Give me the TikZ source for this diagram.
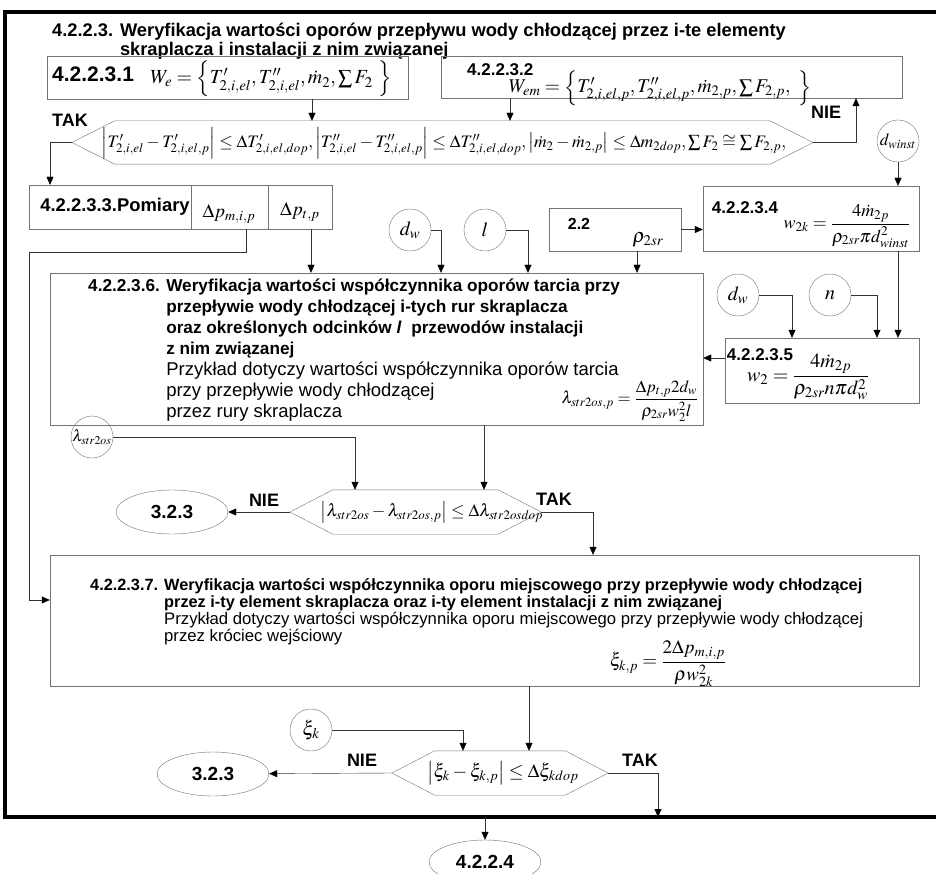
\documentclass[tikz,border=0pt]{standalone}
\usepackage{mathptmx}
\usepackage[no-math]{fontspec}
\setmainfont{Liberation Sans}
\usetikzlibrary{arrows.meta,shapes.geometric,fit}

\tikzset{
  box/.style={draw=black!55, inner sep=0pt},
  inp/.style={draw=black!55, circle, minimum size=42pt, inner sep=0pt, font=\fontsize{20}{20}\selectfont},
  term/.style={draw=black!55, ellipse, minimum width=112pt, minimum height=44pt, inner sep=0pt, font=\bfseries\fontsize{19}{19}\selectfont},
  flow/.style={draw=black!80, -{Triangle[length=8pt,width=7pt,color=black]}},
  tag/.style={inner sep=0pt, font=\bfseries\fontsize{17}{17}\selectfont},
  eq/.style={inner sep=0pt, font=\fontsize{19}{21}\selectfont},
}

\begin{document}
\begin{tikzpicture}[x=1pt, y=-1pt]
\useasboundingbox (0,0) rectangle (936,874);
% outer frame
\draw[line width=4.5pt] (950,12) -- (5,12) -- (5,817) -- (950,817);
\node[tag, anchor=base west, font=\bfseries\fontsize{18.3}{16}\selectfont] (title) at (52,37)
  {\begin{tabular}[t]{@{}l@{ }l@{}}4.2.2.3. & Weryfikacja wartości oporów przepływu wody chłodzącej przez i-te elementy\\
   & skraplacza i instalacji z nim związanej\end{tabular}};

% boxes
\node[box, fit={(47,56) (408,99)}] (b1) {};
\node[box, fit={(441,56) (902,98)}] (b2) {};
\node[box, fit={(29,185) (191,229)}] (b3) {};
\node[box, fit={(191,185) (268,229)}] (b3m) {};
\node[box, fit={(268,185) (332,229)}] (b3t) {};
\node[box, fit={(549,208) (681,251)}] (b22) {};
\node[box, fit={(703,186) (919,251)}] (b4) {};
\node[box, fit={(725,338) (919,403)}] (b5) {};
\node[box, fit={(50,273) (703,425)}] (b6) {};
\node[box, fit={(50,555) (919,686)}] (b7) {};

% checks
\node[fit={(115,121) (770,164)}, inner sep=0pt] (q1) {};
\node[fit={(333,490) (498,534)}, inner sep=0pt] (q2) {};
\node[fit={(435,751) (565,795)}, inner sep=0pt] (q3) {};
\foreach \q in {q1,q2,q3}
  \draw[black!55] (\q.north west) -- (\q.north east) -- ([xshift=43pt]\q.east) -- (\q.south east)
    -- (\q.south west) -- ([xshift=-43pt]\q.west) -- cycle;

% inputs and terminals
\node[inp, font=\fontsize{17}{17}\selectfont] (dwi) at (898,141) {$d_{winst}$};
\node[inp] (dw1) at (410,230) {$d_w$};
\node[inp] (len) at (485,230) {$l$};
\node[inp] (dw2) at (738,295) {$d_w$};
\node[inp] (num) at (830,295) {$n$};
\node[inp, font=\fontsize{16}{16}\selectfont] (lam) at (92,437) {$\lambda_{str2os}$};
\node[inp] (xi) at (311,730) {$\xi_k$};
\node[term] (e1) at (172,512) {3.2.3};
\node[term] (e2) at (213,774) {3.2.3};
\node[term] (e3) at (485,862) {4.2.2.4};

% texts
\node[tag, anchor=base west, font=\bfseries\fontsize{21}{21}\selectfont] (t1) at (52,82) {4.2.2.3.1};
\node[eq, font=\fontsize{20}{22}\selectfont] (f1) at (271,79)
  {$W_e=\left\{T'_{2,i,el},T''_{2,i,el},\dot m_2,\textstyle\sum F_2\ \right\}$};
\node[tag, anchor=base west] (t2) at (467,76) {4.2.2.3.2};
\node[eq, font=\fontsize{19.5}{21}\selectfont] (f2) at (660,88)
  {$W_{em}=\Bigl\{T'_{2,i,el,p},T''_{2,i,el,p},\dot m_{2,p},\textstyle\sum F_{2,p},\ \Bigr\}$};
\node[eq, font=\fontsize{17.5}{20}\selectfont] (f3) at (444,143)
  {$\left|T'_{2,i,el}-T'_{2,i,el,p}\right|\le\Delta T'_{2,i,el,dop},\left|T''_{2,i,el}-T''_{2,i,el,p}\right|\le\Delta T''_{2,i,el,dop},\left|\dot m_2-\dot m_{2,p}\right|\le\Delta m_{2dop},\textstyle\sum F_2\cong\sum F_{2,p},$};
\node[tag, font=\bfseries\fontsize{18.4}{18}\selectfont] (t3) at (115,207) {4.2.2.3.3.Pomiary};
\node[eq] (f4) at (229,214) {$\Delta p_{m,i,p}$};
\node[eq] (f5) at (300,212) {$\Delta p_{t,p}$};
\node[tag, font=\bfseries\fontsize{16}{16}\selectfont] (t22) at (579,224) {2.2};
\node[eq, font=\fontsize{20}{20}\selectfont] (f6) at (648,240) {$\rho_{2sr}$};
\node[tag] (t4) at (745,208) {4.2.2.3.4};
\node[eq, font=\fontsize{18}{20}\selectfont] (f7) at (847,226) {$w_{2k}=\displaystyle\frac{4\dot m_{2p}}{\rho_{2sr}\pi d^2_{winst}}$};
\node[tag] (t5) at (760,355) {4.2.2.3.5};
\node[eq, font=\fontsize{20}{22}\selectfont] (f8) at (808,377) {$w_2=\displaystyle\frac{4\dot m_{2p}}{\rho_{2sr}n\pi d^2_w}$};
\node[tag, anchor=base west, font=\bfseries\fontsize{17.2}{21}\selectfont] (t6) at (88,291)
  {\begin{tabular}[t]{@{}l@{ }l@{}}4.2.2.3.6. & Weryfikacja wartości współczynnika oporów tarcia przy\\
   & przepływie wody chłodzącej i-tych rur skraplacza\\
   & oraz określonych odcinków \textit{l}\ \ przewodów instalacji\\
   & z nim związanej\\
   & \mdseries\fontsize{18.5}{21}\selectfont Przykład dotyczy wartości współczynnika oporów tarcia\\
   & \mdseries\fontsize{18.5}{21}\selectfont przy przepływie wody chłodzącej\\
   & \mdseries\fontsize{18.5}{21}\selectfont przez rury skraplacza\end{tabular}};
\node[eq, font=\fontsize{17}{20}\selectfont] (f9) at (630,401) {$\lambda_{str2os,p}=\displaystyle\frac{\Delta p_{t,p}2d_w}{\rho_{2sr}w_2^2l}$};
\node[eq, font=\fontsize{17.5}{20}\selectfont] (f10) at (432,512) {$\left|\lambda_{str2os}-\lambda_{str2os,p}\right|\le\Delta\lambda_{str2osdop}$};
\node[tag, anchor=base west, font=\bfseries\fontsize{16.3}{17}\selectfont] (t7) at (90,590)
  {\begin{tabular}[t]{@{}l@{ }l@{}}4.2.2.3.7. & Weryfikacja wartości współczynnika oporu miejscowego przy przepływie wody chłodzącej\\
   & przez i-ty element skraplacza oraz i-ty element instalacji z nim związanej\\
   & \mdseries\fontsize{16.7}{17}\selectfont Przykład dotyczy wartości współczynnika oporu miejscowego przy przepływie wody chłodzącej\\
   & \mdseries\fontsize{16.7}{17}\selectfont przez króciec wejściowy\end{tabular}};
\node[eq] (f11) at (668,664) {$\xi_{k,p}=\displaystyle\frac{2\Delta p_{m,i,p}}{\rho w^2_{2k}}$};
\node[eq] (f12) at (503,773) {$\left|\xi_k-\xi_{k,p}\right|\le\Delta\xi_{kdop}$};
\foreach \t/\x/\y/\s in {TAK/70/120/ta, NIE/826/112/na, NIE/264/500/nb, TAK/554/499/tb, NIE/362/760/nc, TAK/640/760/tc}
  \node[tag, font=\bfseries\fontsize{18}{18}\selectfont] (\s) at (\x,\y) {\t};

% connectors
\coordinate (bend) at (29,252);
\coordinate (fr1) at (658,817);
\coordinate (fr2) at (485,817);
\draw[flow] (b1.south -| 312,0) -- (q1.north -| 312,0);
\draw[flow] (b2.south -| 510,0) -- (q1.north -| 510,0);
\draw[flow] ([xshift=-43pt]q1.west) -| (b3.north -| 50,0);
\draw[flow] ([xshift=43pt]q1.east) -| (b2.south -| 856,0);
\draw[flow] (dwi) -- (dwi |- b4.north);
\draw[flow] (b3m.south -| 246,0) |- (bend) |- (b7.west |- 0,600);
\draw[flow] (b3t.south -| 311,0) -- (b6.north -| 311,0);
\draw[flow] (dw1) -| (b6.north -| 441,0);
\draw[flow] (len) -| (b6.north -| 528,0);
\draw[flow] (b22) -- (b4.west |- b22);
\draw[flow] (b22.south -| 637,0) -- (b6.north -| 637,0);
\draw[flow] (b4.south -| 898,0) -- (b5.north -| 898,0);
\draw[flow] (dw2) -| (b5.north -| 792,0);
\draw[flow] (num) -| (b5.north -| 877,0);
\draw[flow] (b5.west |- 0,358) -- (b6.east |- 0,358);
\draw[flow] (b6.south -| 484,0) -- (q2.north -| 484,0);
\draw[flow] (lam) -| (q2.north -| 355,0);
\draw[flow] ([xshift=-43pt]q2.west) -- (e1);
\draw[flow] ([xshift=43pt]q2.east) -| (b7.north -| 593,0);
\draw[flow] (b7.south -| 529,0) -- (q3.north -| 529,0);
\draw[flow] (xi) -| (q3.north -| 463,0);
\draw[flow] ([xshift=-43pt]q3.west) -- (e2);
\draw[flow] ([xshift=43pt]q3.east) -| (fr1);
\draw[flow] (fr2) -- (e3);
\end{tikzpicture}
\end{document}
